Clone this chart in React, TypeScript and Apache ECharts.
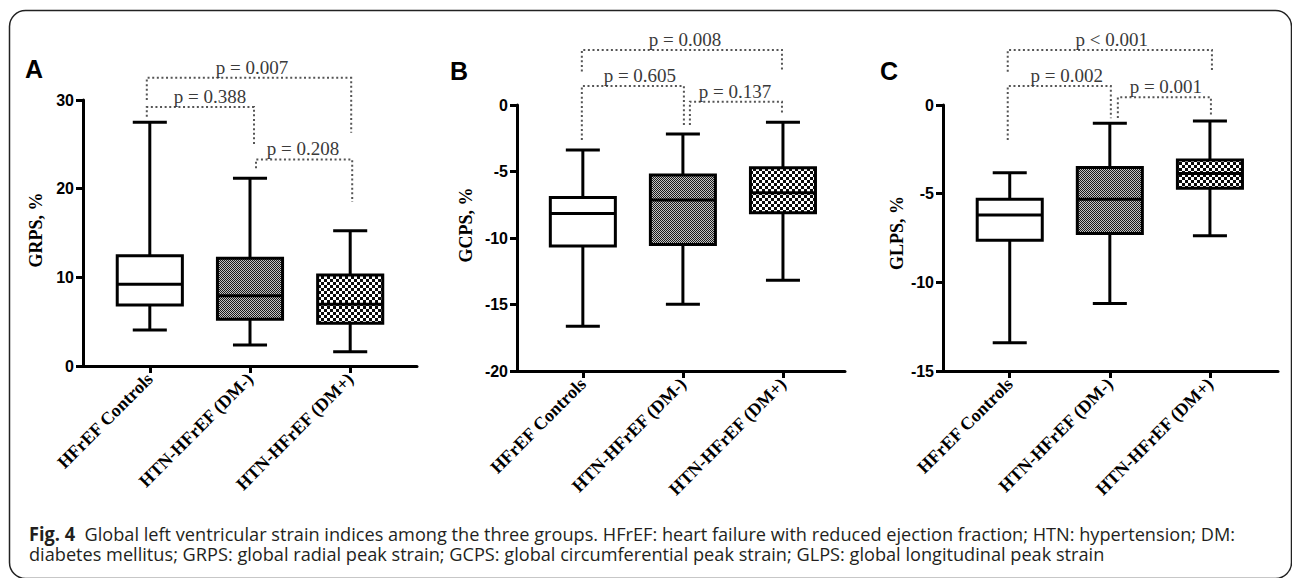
import React, { useEffect, useRef } from "react";
import * as echarts from "echarts";

const categories = ["HFrEF Controls", "HTN-HFrEF (DM-)", "HTN-HFrEF (DM+)"];
const categoryX = [1, 2, 3];

// Box statistics per group: [lower whisker, Q1, median, Q3, upper whisker]
const grpsBoxes = [
  [4.06, 6.88, 9.21, 12.44, 27.48],
  [2.37, 5.27, 7.93, 12.15, 21.17],
  [1.61, 4.82, 6.96, 10.26, 15.26],
];
const gcpsBoxes = [
  [-16.64, -10.6, -8.15, -6.95, -3.39],
  [-14.98, -10.49, -7.15, -5.27, -2.18],
  [-13.18, -8.11, -6.6, -4.72, -1.3],
];
const glpsBoxes = [
  [-13.4, -7.62, -6.21, -5.31, -3.82],
  [-11.2, -7.24, -5.31, -3.52, -1.03],
  [-7.38, -4.7, -3.86, -3.1, -0.9],
];

// y-axis: [min, max, interval]
const grpsAxis = [0, 30, 10];
const gcpsAxis = [-20, 0, 5];
const glpsAxis = [-15, 0, 5];

// significance brackets: [x left, x right, y left end, y top, y right end]
const grpsBrackets = [
  [0.97, 2.04, 28.1, 29.2, 24.9],
  [0.97, 3.01, 30.0, 32.5, 26.3],
  [2.06, 3.02, 22.3, 23.3, 18.5],
];
const grpsPValues = ["p = 0.388", "p = 0.007", "p = 0.208"];
const grpsPLabelX = [1.6, 2.02, 2.53];

const gcpsBrackets = [
  [0.99, 2.99, 2.52, 4.14, 2.52],
  [0.99, 2.01, -2.64, 1.43, -1.51],
  [2.07, 2.99, -1.51, 0.25, -0.75],
];
const gcpsPValues = ["p = 0.008", "p = 0.605", "p = 0.137"];
const gcpsPLabelX = [2.02, 1.57, 2.52];

const glpsBrackets = [
  [0.98, 3.02, 1.88, 3.1, 1.98],
  [0.98, 2.01, -1.98, 1.07, -0.75],
  [2.08, 3.01, -0.73, 0.43, -0.66],
];
const glpsPValues = ["p < 0.001", "p = 0.002", "p = 0.001"];
const glpsPLabelX = [2.02, 1.57, 2.56];

const panelLetters = ["A", "B", "C"];
const yTitles = ["GRPS, %", "GCPS, %", "GLPS, %"];

const captionBold = "Fig. 4";
const captionLine1 =
  "  Global left ventricular strain indices among the three groups. HFrEF: heart failure with reduced ejection fraction; HTN: hypertension; DM:";
const captionLine2 =
  "diabetes mellitus; GRPS: global radial peak strain; GCPS: global circumferential peak strain; GLPS: global longitudinal peak strain";

const SERIF = '"Liberation Serif", "Times New Roman", serif';
const SANS = '"Liberation Sans", Arial, sans-serif';
const CAP = '"Open Sans", "Noto Sans", sans-serif';

function makePattern(kind: string) {
  const c = document.createElement("canvas");
  const ctx = c.getContext("2d")!;
  if (kind === "fine") {
    c.width = 2;
    c.height = 2;
    ctx.fillStyle = "#c4c4c4";
    ctx.fillRect(0, 0, 2, 2);
    ctx.fillStyle = "#1a1a1a";
    ctx.fillRect(0, 0, 1, 1);
    ctx.fillRect(1, 1, 1, 1);
    return { image: c, repeat: "repeat", imageWidth: 2, imageHeight: 2 };
  }
  c.width = 6;
  c.height = 6;
  ctx.fillStyle = "#0a0a0a";
  ctx.fillRect(0, 0, 6, 6);
  ctx.fillStyle = "#ffffff";
  ctx.fillRect(0, 0, 3, 3);
  ctx.fillRect(3, 3, 3, 3);
  return { image: c, repeat: "repeat", imageWidth: 6, imageHeight: 6 };
}

export default function App() {
  const ref = useRef<HTMLDivElement>(null);

  useEffect(() => {
    if (!ref.current) return;
    const chart = echarts.init(ref.current, null, { renderer: "svg" });

    const fills: any[] = ["#ffffff", makePattern("fine"), makePattern("coarse")];

    const panels = [
      { boxes: grpsBoxes, axis: grpsAxis, brackets: grpsBrackets, pv: grpsPValues, px: grpsPLabelX,
        grid: { left: 83, top: 100, width: 334, height: 266 }, xr: [1 / 3, 11 / 3] },
      { boxes: gcpsBoxes, axis: gcpsAxis, brackets: gcpsBrackets, pv: gcpsPValues, px: gcpsPLabelX,
        grid: { left: 517, top: 105, width: 328, height: 266 }, xr: [0.342, 3.62] },
      { boxes: glpsBoxes, axis: glpsAxis, brackets: glpsBrackets, pv: glpsPValues, px: glpsPLabelX,
        grid: { left: 943, top: 105, width: 335, height: 266 }, xr: [1 / 3, 3.68] },
    ];

    const lineStyle = { color: "#000", width: 3 };

    const grids = panels.map((p) => ({ ...p.grid, containLabel: false, outerBoundsMode: "none" }));
    const xAxes = panels.map((p, i) => ({
      type: "value",
      gridIndex: i,
      min: p.xr[0],
      max: p.xr[1],
      axisLine: { show: true, onZero: false, lineStyle },
      axisTick: { show: true, customValues: categoryX, length: 7, lineStyle },
      axisLabel: {
        customValues: categoryX,
        formatter: (v: number) => categories[Math.round(v) - 1] || "",
        rotate: 45,
        margin: 10,
        fontFamily: SERIF,
        fontWeight: "bold",
        fontSize: 18,
        color: "#000",
      },
      splitLine: { show: false },
    }));
    const yAxes = panels.map((p, i) => ({
      type: "value",
      gridIndex: i,
      min: p.axis[0],
      max: p.axis[1],
      interval: p.axis[2],
      axisLine: { show: true, onZero: false, lineStyle },
      axisTick: { show: true, length: 7, lineStyle },
      axisLabel: { margin: 9, fontFamily: SANS, fontWeight: "bold", fontSize: 16, color: "#000" },
      splitLine: { show: false },
    }));

    const series: any[] = [];
    panels.forEach((p, i) => {
      series.push({
        type: "custom",
        xAxisIndex: i,
        yAxisIndex: i,
        clip: false,
        encode: { x: 0, y: [1, 2, 3, 4, 5] },
        data: p.boxes.map((b, k) => [categoryX[k], ...b]),
        renderItem: (params: any, api: any) => {
          const x = api.value(0);
          const lo = api.coord([x, api.value(1)]);
          const q1 = api.coord([x, api.value(2)]);
          const med = api.coord([x, api.value(3)]);
          const q3 = api.coord([x, api.value(4)]);
          const hi = api.coord([x, api.value(5)]);
          const unit = api.size([1, 0])[0];
          const hb = unit * 0.325;
          const hc = unit * 0.17;
          const cx = lo[0];
          const st = { stroke: "#000", lineWidth: 3 };
          return {
            type: "group",
            children: [
              { type: "line", shape: { x1: cx, y1: lo[1], x2: cx, y2: q1[1] }, style: st },
              { type: "line", shape: { x1: cx, y1: q3[1], x2: cx, y2: hi[1] }, style: st },
              { type: "line", shape: { x1: cx - hc, y1: lo[1], x2: cx + hc, y2: lo[1] }, style: st },
              { type: "line", shape: { x1: cx - hc, y1: hi[1], x2: cx + hc, y2: hi[1] }, style: st },
              {
                type: "rect",
                shape: { x: cx - hb, y: q3[1], width: hb * 2, height: q1[1] - q3[1] },
                style: { fill: fills[params.dataIndex], stroke: "#000", lineWidth: 3 },
              },
              { type: "line", shape: { x1: cx - hb, y1: med[1], x2: cx + hb, y2: med[1] }, style: st },
            ],
          };
        },
      });
      series.push({
        type: "custom",
        xAxisIndex: i,
        yAxisIndex: i,
        clip: false,
        encode: { x: [0, 1], y: [2, 3, 4] },
        data: p.brackets,
        renderItem: (params: any, api: any) => {
          const xl = api.value(0);
          const xr = api.value(1);
          const a = api.coord([xl, api.value(2)]);
          const t1 = api.coord([xl, api.value(3)]);
          const t2 = api.coord([xr, api.value(3)]);
          const b = api.coord([xr, api.value(4)]);
          const lab = api.coord([p.px[params.dataIndex], api.value(3)]);
          return {
            type: "group",
            children: [
              {
                type: "polyline",
                shape: { points: [a, t1, t2, b] },
                style: { stroke: "#555", lineWidth: 2, lineDash: [2, 2.6], fill: "none" },
              },
              {
                type: "text",
                x: lab[0],
                y: t1[1] - 1,
                style: {
                  text: p.pv[params.dataIndex],
                  fontFamily: SERIF,
                  fontSize: 19,
                  fill: "#3a3a3a",
                  align: "center",
                  verticalAlign: "bottom",
                },
              },
            ],
          };
        },
      });
    });

    // caption width fitting
    const CAP_SIZE = 19;
    const mctx = document.createElement("canvas").getContext("2d")!;
    mctx.font = `bold ${CAP_SIZE}px ${CAP}`;
    const wb = mctx.measureText(captionBold).width;
    mctx.font = `${CAP_SIZE}px ${CAP}`;
    const wr = mctx.measureText(captionLine1).width;
    const capScale = 1206 / (wb + wr);

    const letterPos = [
      [25, 69],
      [450, 70.5],
      [880, 70.5],
    ];
    const titlePos = [
      [36, 230],
      [466, 225],
      [897, 233],
    ];

    const graphic: any[] = [
      {
        type: "rect",
        z: -10,
        shape: { x: 9.5, y: 10.5, width: 1282, height: 568, r: 16 },
        style: { fill: "none", stroke: "#222", lineWidth: 1.5 },
      },
      ...panelLetters.map((l, i) => ({
        type: "text",
        x: letterPos[i][0],
        y: letterPos[i][1],
        style: { text: l, fontFamily: SANS, fontWeight: "bold", fontSize: 25, fill: "#000", align: "left", verticalAlign: "middle" },
      })),
      ...yTitles.map((t, i) => ({
        type: "text",
        x: titlePos[i][0],
        y: titlePos[i][1],
        rotation: Math.PI / 2,
        style: { text: t, fontFamily: SERIF, fontWeight: "bold", fontSize: 18, fill: "#000", align: "center", verticalAlign: "middle" },
      })),
      {
        type: "text",
        x: 29,
        y: 533,
        scaleX: capScale,
        style: {
          text: `{b|${captionBold}}${captionLine1}`,
          fontFamily: CAP,
          fontSize: CAP_SIZE,
          fill: "#231f20",
          align: "left",
          verticalAlign: "middle",
          rich: { b: { fontFamily: CAP, fontSize: CAP_SIZE, fontWeight: "bold", fill: "#231f20" } },
        },
      },
      {
        type: "text",
        x: 29,
        y: 553,
        scaleX: capScale,
        style: {
          text: captionLine2,
          fontFamily: CAP,
          fontSize: CAP_SIZE,
          fill: "#231f20",
          align: "left",
          verticalAlign: "middle",
        },
      },
    ];

    chart.setOption({
      animation: false,
      backgroundColor: "#ffffff",
      grid: grids,
      xAxis: xAxes,
      yAxis: yAxes,
      series,
      graphic,
    });

    return () => chart.dispose();
  }, []);

  return (
    <div
      ref={ref}
      style={{ position: "absolute", left: 0, top: 0, width: 1292, height: 578, background: "#fff" }}
    />
  );
}
